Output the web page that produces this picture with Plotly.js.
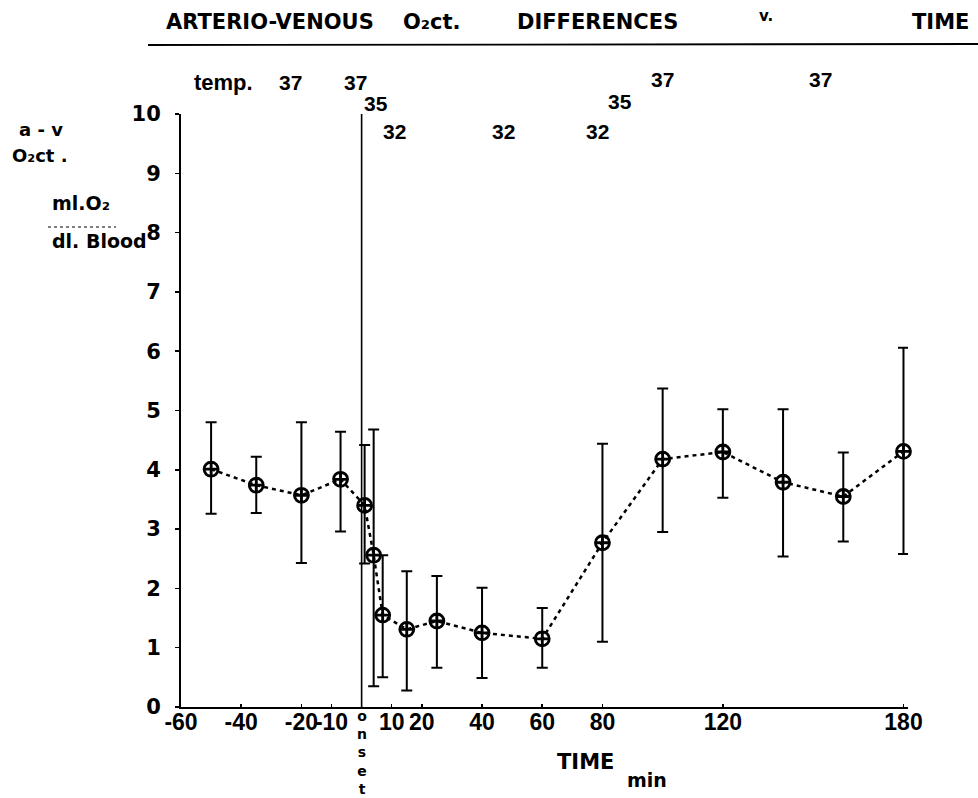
<!DOCTYPE html>
<html>
<head>
<meta charset="utf-8">
<script src="https://cdn.plot.ly/plotly-3.0.1.min.js"></script>
<style>
html,body{margin:0;padding:0;background:#fff;}
#chart{width:978px;height:798px;}
</style>
</head>
<body>
<div id="chart"></div>
<script>
// ---- data ----
var timeMin = [-50, -35, -20, -7, 1, 4, 7, 15, 25, 40, 60, 80, 100, 120, 140, 160, 180];
var avMean  = [4.01, 3.74, 3.57, 3.84, 3.40, 2.56, 1.55, 1.31, 1.45, 1.25, 1.15, 2.77, 4.18, 4.30, 3.79, 3.55, 4.31];
var avUpper = [4.80, 4.22, 4.80, 4.64, 4.42, 4.68, 2.56, 2.29, 2.21, 2.01, 1.67, 4.44, 5.37, 5.02, 5.02, 4.29, 6.06];
var avLower = [3.26, 3.27, 2.43, 2.96, 2.42, 0.35, 0.50, 0.28, 0.66, 0.49, 0.66, 1.10, 2.95, 3.53, 2.54, 2.79, 2.58];
var xTickVals = [-60, -40, -20, -10, 10, 20, 40, 60, 80, 120, 180];
var xTickText = ['-60', '-40', '-20', '-10', '10', '20', '40', '60', '80', '120', '180'];
var yTickVals = [0, 1, 2, 3, 4, 5, 6, 7, 8, 9, 10];
var tempLabels = ['37', '37', '35', '32', '32', '32', '35', '37', '37'];

// ---- layout geometry ----
var W = 978, H = 798, ML = 181, MR = 70, MT = 114, MB = 91;
var PW = W - ML - MR, PH = H - MT - MB;
function px(x) { return (x - ML) / PW; }
function py(y) { return (H - MB - y) / PH; }

var errPlus = avMean.map(function (m, i) { return avUpper[i] - m; });
var errMinus = avMean.map(function (m, i) { return m - avLower[i]; });

var WIDE = 'DejaVu Sans, Verdana, sans-serif';
var NARROW = 'Liberation Sans, Arial, sans-serif';

var trace = {
  x: timeMin, y: avMean, type: 'scatter', mode: 'lines+markers',
  line: {color: '#000', width: 2.5, dash: '4px,4px'},
  marker: {symbol: 'circle-cross-open', size: 14, color: '#000', line: {color: '#000', width: 2.8}},
  error_y: {type: 'data', symmetric: false, array: errPlus, arrayminus: errMinus,
            color: '#000', thickness: 2, width: 5.5},
  hoverinfo: 'x+y', showlegend: false, cliponaxis: false
};

function ann(text, x, y, size, fam) {
  return {text: text, xref: 'paper', yref: 'paper', x: px(x), y: py(y),
          xanchor: 'center', yanchor: 'middle', showarrow: false,
          font: {family: fam || WIDE, size: size, color: '#000', weight: 'bold'}};
}

var tempPos = [[290, 82], [355, 82], [376, 103], [394, 131], [503, 131], [597, 131], [620, 102], [662, 80], [820, 80]];

var annotations = [
  ann('ARTERIO-VENOUS', 270, 22, 21),
  ann('O₂ct.', 432, 22, 21),
  ann('DIFFERENCES', 597, 22, 21),
  ann('v.', 766, 16, 15),
  ann('TIME', 940, 22, 21),
  ann('temp.', 223, 82, 22, NARROW)
];
tempLabels.forEach(function (t, i) {
  annotations.push(ann(t, tempPos[i][0], tempPos[i][1], 21, NARROW));
});
annotations.push(ann('a - v', 41, 130, 18));
annotations.push(ann('O₂ct .', 40, 155, 18));
annotations.push(ann('ml.O₂', 81, 203, 19));
annotations.push(ann('dl. Blood', 99, 241, 19));
annotations.push(ann('o<br>n<br>s<br>e<br>t', 362, 752, 14));
annotations.push(ann('TIME', 585, 762, 21));
annotations.push(ann('min', 647, 780, 19));

var shapes = [
  {type: 'line', xref: 'paper', yref: 'paper', x0: px(148), x1: px(978), y0: py(45), y1: py(44),
   line: {color: '#000', width: 1.8}},
  {type: 'line', xref: 'paper', yref: 'paper', x0: px(48), x1: px(116), y0: py(227), y1: py(227),
   line: {color: '#000', width: 1.2, dash: '3px,3px'}},
  {type: 'line', xref: 'x', yref: 'y', x0: 0, x1: 0, y0: 0, y1: 10.08,
   line: {color: '#000', width: 1.6}}
];

var layout = {
  width: W, height: H,
  margin: {l: ML, r: MR, t: MT, b: MB, pad: 0},
  paper_bgcolor: '#fff', plot_bgcolor: '#fff',
  font: {family: WIDE, color: '#000'},
  xaxis: {range: [-60, 181.5], tickvals: xTickVals, ticktext: xTickText, tickangle: 0,
          showgrid: false, zeroline: false, showline: true, linecolor: '#000', linewidth: 2,
          ticks: 'inside', ticklen: 3, tickcolor: '#000', tickwidth: 1.5,
          ticklabelstandoff: -7,
          tickfont: {family: NARROW, size: 23, color: '#000', weight: 'bold'}, fixedrange: true},
  yaxis: {range: [0, 10], tickvals: yTickVals,
          showgrid: false, zeroline: false, showline: true, linecolor: '#000', linewidth: 2,
          ticks: 'outside', ticklen: 4, tickcolor: '#000', tickwidth: 1.5,
          ticklabelstandoff: 10,
          tickfont: {family: WIDE, size: 21, color: '#000', weight: 'bold'}, fixedrange: true},
  annotations: annotations,
  shapes: shapes,
  showlegend: false
};

Plotly.newPlot('chart', [trace], layout, {displayModeBar: false, staticPlot: true});
</script>
</body>
</html>
